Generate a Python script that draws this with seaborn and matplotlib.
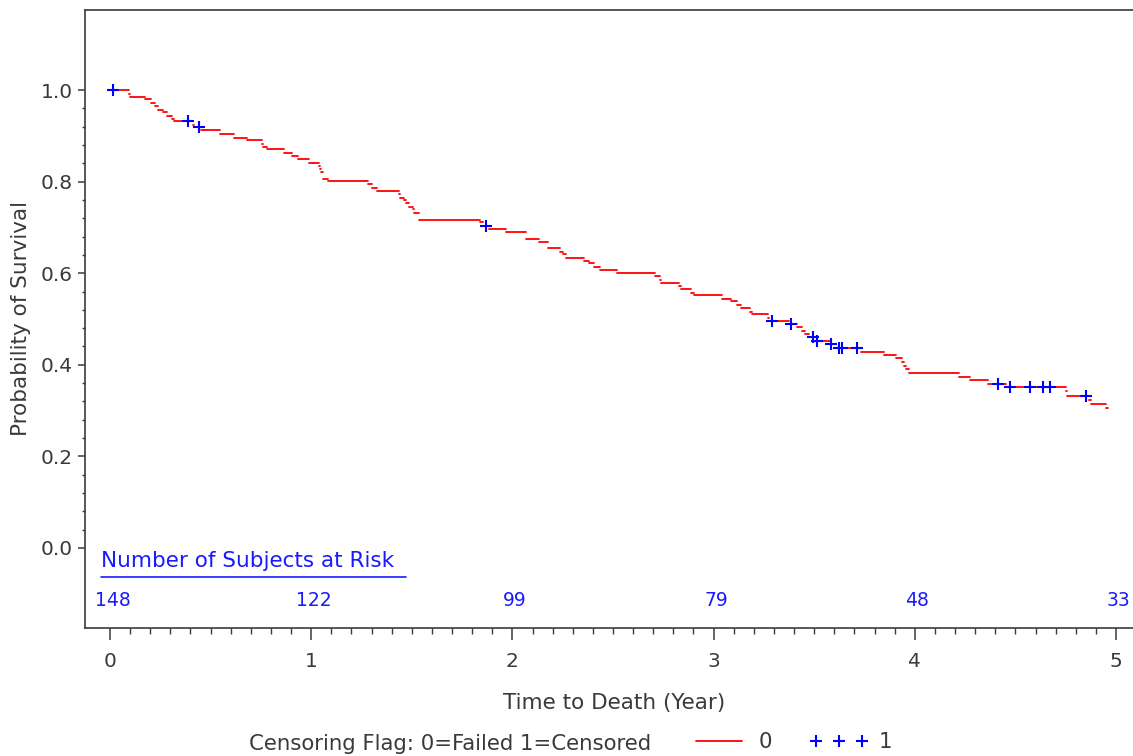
import numpy as np
import pandas as pd
import matplotlib
matplotlib.use("Agg")
import matplotlib.pyplot as plt
from matplotlib.lines import Line2D
from matplotlib.ticker import FixedLocator, FormatStrFormatter
import seaborn as sns

# Kaplan-Meier estimate: start of each plateau (years) and survival on it
step_time = [0.000, 0.094, 0.099, 0.174, 0.204, 0.224, 0.239, 0.263, 0.283, 0.308,
             0.316, 0.410, 0.417, 0.452, 0.549, 0.614, 0.683, 0.753, 0.760, 0.778,
             0.865, 0.907, 0.934, 0.989, 1.039, 1.044, 1.049, 1.059, 1.083, 1.282,
             1.302, 1.327, 1.436, 1.439, 1.461, 1.471, 1.484, 1.506, 1.513, 1.538,
             1.841, 1.854, 1.884, 1.968, 2.068, 2.070, 2.132, 2.177, 2.179, 2.239,
             2.251, 2.266, 2.356, 2.383, 2.408, 2.435, 2.522, 2.709, 2.734, 2.739,
             2.826, 2.838, 2.888, 2.903, 3.042, 3.086, 3.116, 3.136, 3.183, 3.193,
             3.268, 3.275, 3.377, 3.415, 3.439, 3.454, 3.474, 3.504, 3.581, 3.608,
             3.735, 3.847, 3.907, 3.936, 3.946, 3.954, 3.971, 4.222, 4.274, 4.364,
             4.453, 4.751, 4.754, 4.866, 4.878, 4.950]
survival = [1.000, 0.991, 0.985, 0.980, 0.972, 0.966, 0.957, 0.952, 0.944, 0.937,
            0.932, 0.924, 0.919, 0.913, 0.904, 0.896, 0.890, 0.882, 0.876, 0.871,
            0.862, 0.857, 0.849, 0.841, 0.835, 0.828, 0.821, 0.806, 0.801, 0.795,
            0.787, 0.779, 0.772, 0.765, 0.759, 0.753, 0.745, 0.740, 0.731, 0.717,
            0.711, 0.704, 0.697, 0.689, 0.683, 0.675, 0.669, 0.662, 0.656, 0.647,
            0.642, 0.634, 0.627, 0.622, 0.614, 0.608, 0.600, 0.594, 0.585, 0.578,
            0.571, 0.566, 0.557, 0.552, 0.544, 0.539, 0.530, 0.524, 0.516, 0.510,
            0.502, 0.496, 0.488, 0.483, 0.474, 0.468, 0.460, 0.452, 0.446, 0.437,
            0.429, 0.421, 0.415, 0.406, 0.398, 0.390, 0.382, 0.373, 0.367, 0.359,
            0.351, 0.343, 0.331, 0.324, 0.314, 0.306]
last_followup = 4.958

# Censored observations
censor_time = [0.016, 0.389, 0.442, 1.869, 3.290, 3.385, 3.493, 3.515, 3.583,
               3.625, 3.637, 3.711, 4.415, 4.473, 4.573, 4.636, 4.672, 4.851]
censor_surv = [1.000, 0.932, 0.919, 0.704, 0.496, 0.488, 0.460, 0.452, 0.446,
               0.437, 0.437, 0.437, 0.359, 0.351, 0.351, 0.351, 0.351, 0.331]

# Number at risk at each whole year
risk_years = [0, 1, 2, 3, 4, 5]
at_risk = [148, 122, 99, 79, 48, 33]

x_ticks = [0, 1, 2, 3, 4, 5]
y_ticks = [0.0, 0.2, 0.4, 0.6, 0.8, 1.0]

sns.set_theme(style="ticks")
plt.rcParams["font.family"] = ["DejaVu Sans"]

TXT = "#3a3a3a"
BLUE = "#1a1aff"

W, H = 1133, 756
fig = plt.figure(figsize=(W / 100, H / 100), dpi=100)
ax = fig.add_axes([85 / W, 1 - 628 / H, (W - 85) / W, 618 / H])

# Horizontal plateau segments of the step curve
ends = step_time[1:] + [last_followup]
rows = []
for i, (t0, t1, s) in enumerate(zip(step_time, ends, survival)):
    rows.append({"time": t0, "surv": s, "seg": i})
    rows.append({"time": t1, "surv": s, "seg": i})
seg_df = pd.DataFrame(rows)

sns.lineplot(data=seg_df, x="time", y="surv", units="seg", estimator=None,
             color="red", linewidth=1.3, ax=ax, legend=False)
sns.scatterplot(x=censor_time, y=censor_surv, marker="+", s=85, color="blue",
                linewidth=1.5, ax=ax, legend=False, zorder=3)

ax.set_xlim(-0.1243, 5.0845)
ax.set_ylim(-0.1747, 1.1747)

ax.set_xticks(x_ticks)
ax.set_xticklabels([str(v) for v in x_ticks])
ax.xaxis.set_minor_locator(FixedLocator([i / 10 for i in range(1, 50) if i % 10]))
ax.set_yticks(y_ticks)
ax.yaxis.set_major_formatter(FormatStrFormatter("%.1f"))
ax.yaxis.set_minor_locator(FixedLocator([i * 0.04 for i in range(1, 25) if i % 5]))

ax.tick_params(axis="x", which="major", direction="out", length=8.6, width=1.1,
               pad=9, labelsize=14.5, colors=TXT)
ax.tick_params(axis="x", which="minor", direction="out", length=4, width=1.0,
               colors=TXT)
ax.tick_params(axis="y", which="major", direction="out", length=5, width=1.1,
               pad=4, labelsize=14.5, colors=TXT)
ax.tick_params(axis="y", which="minor", direction="out", length=2.5, width=1.0,
               colors=TXT)

for side in ("left", "bottom", "top"):
    ax.spines[side].set_color(TXT)
    ax.spines[side].set_linewidth(1.2)
ax.spines["right"].set_visible(False)

ax.set_xlabel("Time to Death (Year)", fontsize=15.5, color=TXT)
ax.xaxis.set_label_coords((614 - 85) / (W - 85), (628 - 703) / 618)
ax.xaxis.label.set_va("center")
ax.set_ylabel("Probability of Survival", fontsize=15.5, color=TXT)
ax.yaxis.set_label_coords((21 - 85) / (W - 85), 0.5)
ax.yaxis.label.set_va("center")

# Number-at-risk table inside the plot frame
ax.text(-0.0447, -0.0284, "Number of Subjects at Risk", color=BLUE,
        fontsize=15.5, ha="left", va="center", clip_on=False)
ax.plot([-0.0447, 1.471], [-0.0633, -0.0633], color=BLUE, linewidth=1.2)
for yr, n in zip(risk_years, at_risk):
    ax.text(yr + 0.012, -0.1157, str(n), color=BLUE, fontsize=13.5,
            ha="center", va="center", clip_on=False)

# Legend row under the x-axis label
fig.text(249 / W, 1 - 744 / H, "Censoring Flag: 0=Failed 1=Censored",
         fontsize=15.3, color=TXT, ha="left", va="center")
handles = [Line2D([], [], color="red", linewidth=1.3),
           Line2D([], [], color="blue", marker="+", linestyle="none",
                  markersize=9, markeredgewidth=1.5)]
leg = fig.legend(handles, ["0", "1"], loc="center left",
                 bbox_to_anchor=(690 / W, 1 - 742 / H), ncol=2, frameon=False,
                 fontsize=15.3, handlelength=2.75, handletextpad=0.5,
                 columnspacing=1.75, borderpad=0, borderaxespad=0, numpoints=3)
for t in leg.get_texts():
    t.set_color(TXT)

fig.savefig("out.png", dpi=100)
